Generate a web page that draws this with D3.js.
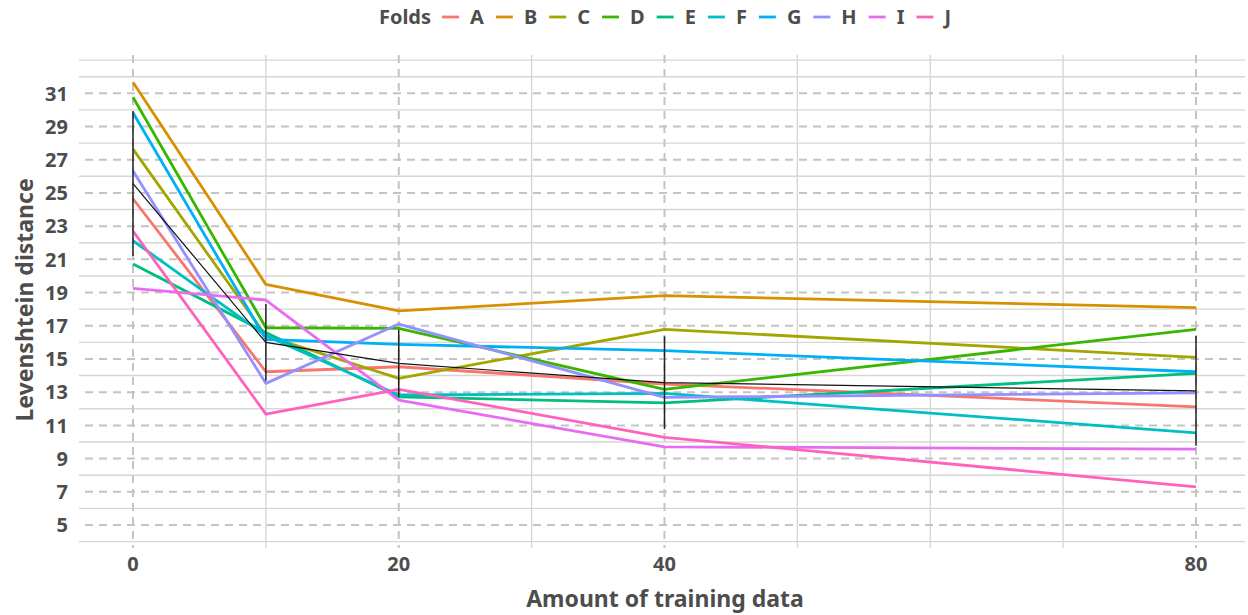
<!DOCTYPE html>
<html>
<head>
<meta charset="utf-8">
<script src="https://cdn.jsdelivr.net/npm/d3@7"></script>
<style>
  body { margin: 0; background: #fff; }
  svg text { font-family: "Noto Sans", sans-serif; font-weight: bold; fill: #4d4d4d; }
</style>
</head>
<body>
<div id="chart"></div>
<script>
const xValues = [0, 10, 20, 40, 80];
const foldNames = ['A', 'B', 'C', 'D', 'E', 'F', 'G', 'H', 'I', 'J'];
const foldA = [24.65, 14.23, 14.53, 13.49, 12.12];
const foldB = [31.66, 19.49, 17.89, 18.81, 18.09];
const foldC = [27.64, 16.40, 13.83, 16.78, 15.10];
const foldD = [30.76, 16.88, 16.84, 13.17, 16.78];
const foldE = [20.72, 16.60, 12.72, 12.36, 14.13];
const foldF = [22.12, 16.40, 12.83, 12.93, 10.55];
const foldG = [29.83, 16.18, 15.88, 15.50, 14.23];
const foldH = [26.32, 13.53, 17.10, 12.69, 12.96];
const foldI = [19.25, 18.55, 12.52, 9.71, 9.57];
const foldJ = [22.70, 11.68, 13.17, 10.28, 7.30];
const foldColors = ['#F8766D', '#D89000', '#A3A500', '#39B600', '#00BF7D',
                    '#00BFC4', '#00B0F6', '#9590FF', '#E76BF3', '#FF62BC'];
const xMajor = [0, 20, 40, 80];
const xMinor = [10, 30, 50, 60, 70];
const yMajor = [5, 7, 9, 11, 13, 15, 17, 19, 21, 23, 25, 27, 29, 31];
const yMinor = [4, 6, 8, 10, 12, 14, 16, 18, 20, 22, 24, 26, 28, 30, 32, 33];

const Chart = function(){
  const W = 1248, H = 615,
        LEFT = 79, RIGHT = 1245, TOP = 55, BOTTOM = 545;

  const series = [foldA, foldB, foldC, foldD, foldE, foldF, foldG, foldH, foldI, foldJ]
    .map((vals, i) => ({name: foldNames[i], color: foldColors[i],
                        pts: vals.map((v, j) => [xValues[j], v])}));

  // mean and sd over folds for each x
  const stats = xValues.map((x, j) => {
    const vs = series.map(s => s.pts[j][1]);
    return {x: x, mean: d3.mean(vs), sd: d3.deviation(vs)};
  });

  const x = d3.scaleLinear().domain([0, 80]).range([133, 1196]);
  const y = d3.scaleLinear().domain([5, 31]).range([525, 93.3]);

  const draw = () => {
    const svg = d3.select('#chart').append('svg')
      .attr('width', W).attr('height', H);

    const grid = svg.append('g');
    grid.selectAll('.ymin').data(yMinor).enter().append('line')
      .attr('x1', LEFT).attr('x2', RIGHT)
      .attr('y1', d => y(d)).attr('y2', d => y(d))
      .attr('stroke', '#d6d6d6').attr('stroke-width', 1.4);
    grid.selectAll('.xmin').data(xMinor).enter().append('line')
      .attr('x1', d => x(d)).attr('x2', d => x(d))
      .attr('y1', TOP).attr('y2', BOTTOM + 3)
      .attr('stroke', '#d6d6d6').attr('stroke-width', 1.4);
    grid.selectAll('.ymaj').data(yMajor).enter().append('line')
      .attr('x1', LEFT).attr('x2', RIGHT)
      .attr('y1', d => y(d)).attr('y2', d => y(d))
      .attr('stroke', '#c4c4c4').attr('stroke-width', 2)
      .attr('stroke-dasharray', '8,6').attr('stroke-dashoffset', -6);
    grid.selectAll('.xmaj').data(xMajor).enter().append('line')
      .attr('x1', d => x(d)).attr('x2', d => x(d))
      .attr('y1', TOP).attr('y2', BOTTOM + 3)
      .attr('stroke', '#c4c4c4').attr('stroke-width', 2)
      .attr('stroke-dasharray', '8,6');

    // tick labels
    svg.append('g').selectAll('text').data(yMajor).enter().append('text')
      .attr('x', 68).attr('y', d => y(d)).attr('dy', '0.36em')
      .attr('text-anchor', 'end').style('font-size', '20px')
      .text(d => d);
    svg.append('g').selectAll('text').data(xMajor).enter().append('text')
      .attr('x', d => x(d)).attr('y', 571)
      .attr('text-anchor', 'middle').style('font-size', '20px')
      .text(d => d);

    // axis titles
    svg.append('text')
      .attr('transform', `translate(33,${(TOP + BOTTOM) / 2}) rotate(-90)`)
      .attr('text-anchor', 'middle').style('font-size', '23px')
      .text('Levenshtein distance');
    svg.append('text')
      .attr('x', (LEFT + RIGHT) / 2 + 3).attr('y', 607)
      .attr('text-anchor', 'middle').style('font-size', '23px')
      .text('Amount of training data');

    // fold lines
    const line = d3.line().x(d => x(d[0])).y(d => y(d[1]));
    svg.append('g').selectAll('path').data(series).enter().append('path')
      .attr('d', d => line(d.pts))
      .attr('fill', 'none')
      .attr('stroke', d => d.color)
      .attr('stroke-width', 2.8)
      .attr('stroke-linejoin', 'round');

    // mean + error bars
    svg.append('path')
      .attr('d', d3.line().x(d => x(d.x)).y(d => y(d.mean))(stats))
      .attr('fill', 'none').attr('stroke', '#111').attr('stroke-width', 1.2);
    svg.append('g').selectAll('line').data(stats).enter().append('line')
      .attr('x1', d => x(d.x)).attr('x2', d => x(d.x))
      .attr('y1', d => y(d.mean - d.sd)).attr('y2', d => y(d.mean + d.sd))
      .attr('stroke', '#222').attr('stroke-width', 1.5);

    // legend
    const lg = svg.append('g');
    let cx = 0;
    const ttl = lg.append('text').attr('x', 0).attr('y', 24)
      .style('font-size', '20px').text('Folds');
    cx = ttl.node().getComputedTextLength() + 11;
    series.forEach(s => {
      lg.append('line')
        .attr('x1', cx).attr('x2', cx + 17)
        .attr('y1', 17).attr('y2', 17)
        .attr('stroke', s.color).attr('stroke-width', 2.8);
      cx += 17 + 11;
      const t = lg.append('text').attr('x', cx).attr('y', 24)
        .style('font-size', '20px').text(s.name);
      cx += t.node().getComputedTextLength() + 12;
    });
    cx -= 12;
    lg.attr('transform', `translate(${(LEFT + RIGHT) / 2 + 3 - cx / 2},0)`);
  };

  return { draw: draw };
}();

document.addEventListener('DOMContentLoaded', Chart.draw);
</script>
</body>
</html>
